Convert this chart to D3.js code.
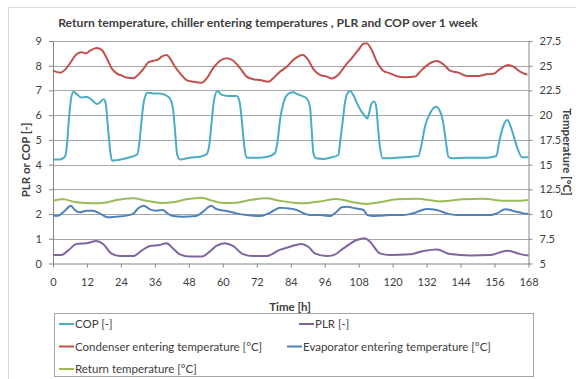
<!DOCTYPE html>
<html>
<head>
<meta charset="utf-8">
<script src="https://cdn.jsdelivr.net/npm/d3@7"></script>
<style>
  body { margin: 0; background: #fff; }
  svg text { font-family: Lato, "Open Sans", sans-serif; fill: #404040; }
</style>
</head>
<body>
<svg id="chart"></svg>
<script>
var width = 576;
var height = 379;

var hourTicks = d3.range(0, 169, 12);
var leftTicks = d3.range(0, 10, 1);
var rightTicks = [5, 7.5, 10, 12.5, 15, 17.5, 20, 22.5, 25, 27.5];

// COP [-] (left axis)
var copHours = [0, 2.4, 4.2, 4.8, 5.7, 6.5, 7.3, 8.3, 10.1, 11.8, 13.5, 15.5, 16.5, 17.9, 18.6, 19.4, 20.3, 20.9, 22.5, 26, 29.8, 30.5, 31.3, 32.2, 33.4, 35.5, 37.8, 39.6, 41.3, 42.3, 43.1, 43.9, 44.9, 48.4, 52, 54.3, 55.3, 56.1, 56.9, 58.1, 59.6, 62, 64.9, 65.9, 66.7, 67.6, 68.4, 73.1, 76.7, 78.4, 79.4, 80.2, 81.4, 83.1, 84.9, 86.1, 87.9, 89.6, 90.8, 91.4, 92, 92.9, 95.5, 97.9, 100.8, 101.4, 102.4, 103.2, 104, 104.9, 106.1, 107.3, 108.5, 109.9, 111.1, 111.8, 112.6, 113.4, 114.2, 114.9, 115.5, 116.5, 119.1, 123.8, 129.1, 130.3, 131.4, 133.2, 135.3, 136.8, 137.9, 138.9, 139.7, 140.9, 146.2, 153.3, 156.6, 157.8, 159.2, 160.6, 162.1, 163.9, 165.7, 168];
var copValues = [4.21, 4.21, 4.32, 4.66, 5.94, 6.75, 6.95, 6.86, 6.71, 6.75, 6.64, 6.45, 6.51, 6.64, 6.48, 5.53, 4.46, 4.16, 4.18, 4.26, 4.42, 4.86, 5.80, 6.61, 6.91, 6.88, 6.88, 6.82, 6.68, 6.34, 5.40, 4.39, 4.21, 4.28, 4.32, 4.42, 4.86, 5.80, 6.61, 6.98, 6.82, 6.78, 6.78, 6.55, 5.80, 4.73, 4.28, 4.28, 4.35, 4.46, 5.00, 5.80, 6.48, 6.86, 6.93, 6.86, 6.78, 6.68, 6.34, 5.40, 4.46, 4.26, 4.23, 4.28, 4.39, 4.86, 5.80, 6.55, 6.88, 6.98, 6.82, 6.51, 6.24, 6.01, 5.87, 6.14, 6.48, 6.55, 6.34, 5.40, 4.73, 4.26, 4.26, 4.30, 4.35, 4.86, 5.53, 6.07, 6.34, 6.14, 5.67, 4.86, 4.32, 4.26, 4.28, 4.28, 4.35, 5.00, 5.60, 5.80, 5.40, 4.73, 4.30, 4.30];

// PLR [-] (left axis)
var plrHours = [0, 3, 5.3, 8.3, 11.8, 15.3, 17.7, 20.6, 23.6, 28.3, 31.3, 34.2, 37.8, 40.1, 42.4, 44.8, 48.4, 52.5, 55.4, 57.7, 60.7, 63.6, 67.1, 70.7, 75.4, 80.1, 83.7, 87.8, 90.2, 92.5, 96.7, 99.1, 102.6, 107.3, 110.2, 112, 115.5, 119.1, 126.2, 130.9, 135.6, 140.3, 147.4, 154.5, 160.4, 165.1, 168];
var plrValues = [0.34, 0.34, 0.52, 0.79, 0.82, 0.91, 0.79, 0.41, 0.30, 0.30, 0.52, 0.71, 0.75, 0.82, 0.61, 0.37, 0.28, 0.28, 0.48, 0.71, 0.82, 0.71, 0.38, 0.30, 0.30, 0.55, 0.68, 0.79, 0.68, 0.41, 0.30, 0.34, 0.61, 0.95, 1.02, 0.88, 0.41, 0.34, 0.37, 0.51, 0.57, 0.38, 0.32, 0.34, 0.52, 0.38, 0.32];

// Condenser entering temperature [°C] (right axis)
var condHours = [0, 2.5, 4.2, 6, 8.4, 10.1, 11.7, 13.1, 15.4, 17.2, 19, 20.7, 22.5, 24.3, 26, 28.4, 30.1, 31.9, 33.7, 35.4, 37.2, 38.4, 40.2, 41.3, 43.1, 44.9, 47.2, 49.6, 52.5, 54.3, 56.6, 59, 61.4, 63.7, 66.1, 68.4, 70.8, 73.1, 76.1, 77.8, 80.2, 82.6, 84.9, 86.1, 88.2, 90.2, 92, 94.3, 96.7, 98.5, 100.8, 103.2, 105.5, 107.9, 109.6, 110.8, 112.6, 114.4, 116.7, 119.1, 121.4, 124.4, 127.9, 130.3, 133.2, 135.6, 137.9, 140.3, 143.2, 146.2, 149.7, 153.3, 155.6, 157.9, 160.9, 162.7, 165, 167.6];
var condTemps = [24.5, 24.3, 24.58, 25.25, 26.18, 26.35, 26.25, 26.53, 26.8, 26.6, 25.75, 24.75, 24.23, 24.0, 23.8, 23.73, 24.08, 24.65, 25.35, 25.5, 25.65, 25.93, 26.08, 25.75, 24.9, 24.23, 23.55, 23.38, 23.28, 23.73, 24.75, 25.5, 25.75, 25.5, 24.75, 23.9, 23.63, 23.55, 23.38, 23.73, 24.4, 24.9, 25.58, 25.85, 26.08, 25.58, 24.65, 24.08, 23.9, 23.7, 24.08, 24.98, 25.75, 26.6, 27.2, 27.28, 26.6, 25.4, 24.5, 24.23, 23.95, 23.83, 23.9, 24.58, 25.25, 25.48, 25.15, 24.5, 24.3, 23.95, 23.95, 24.13, 24.18, 24.65, 25.08, 24.9, 24.4, 24.08];

// Evaporator entering temperature [°C] (right axis)
var evapHours = [0, 1.8, 4.2, 6.3, 7.7, 9.5, 11.9, 14.1, 16.5, 19.4, 22.4, 25.9, 28.3, 30.1, 32.1, 34.2, 36.6, 38.9, 40.1, 42.4, 45.9, 50.6, 53, 55.9, 57.7, 61.3, 64.8, 68.4, 73.1, 76.7, 80.2, 82.6, 86.1, 87.3, 90.8, 94.3, 97.9, 100.2, 102, 103.8, 106.8, 109.7, 111.1, 113.2, 115.5, 119.1, 123.8, 127.9, 132.1, 135.6, 139.1, 142.6, 147.4, 154.5, 156.8, 159.8, 162.7, 166.3, 168];
var evapTemps = [9.84, 9.84, 10.34, 10.85, 10.41, 10.18, 10.34, 10.34, 10.07, 9.67, 9.74, 9.84, 10.01, 10.58, 10.85, 10.48, 10.34, 10.41, 10.14, 9.8, 9.74, 9.8, 10.24, 10.85, 10.51, 10.31, 10.07, 9.9, 9.8, 10.14, 10.65, 10.58, 10.41, 10.24, 9.9, 9.9, 9.8, 10.24, 10.68, 10.75, 10.58, 10.41, 9.9, 9.8, 9.84, 9.9, 9.9, 10.14, 10.51, 10.41, 10.07, 9.9, 9.9, 9.9, 10.07, 10.48, 10.31, 10.07, 10.0];

// Return temperature [°C] (right axis)
var returnHours = [0, 3.6, 8.3, 14.1, 18.3, 22.4, 28.3, 33, 38.9, 42.4, 47.1, 52.5, 55.4, 60.1, 64.8, 69.5, 75.4, 80.1, 86, 88.5, 94.3, 100.2, 106.1, 110.8, 115.5, 121.4, 128.5, 136.8, 145, 152.1, 159.2, 165.1, 168];
var returnTemps = [11.35, 11.49, 11.19, 11.09, 11.15, 11.42, 11.59, 11.35, 11.12, 11.19, 11.49, 11.65, 11.42, 11.12, 11.15, 11.42, 11.59, 11.35, 11.12, 11.09, 11.28, 11.52, 11.19, 11.02, 11.19, 11.49, 11.55, 11.28, 11.49, 11.55, 11.35, 11.35, 11.42];

var svg = d3.select('#chart').attr('width', width).attr('height', height);

var plotLeft = 53, plotRight = 528.5, plotTop = 41, plotBottom = 263.5;

var x = d3.scaleLinear().domain([0, 168]).range([plotLeft, plotRight]);
var yLeft = d3.scaleLinear().domain([0, 9]).range([plotBottom, plotTop]);
var yRight = d3.scaleLinear().domain([5, 27.5]).range([plotBottom, plotTop]);

// outer chart frame
svg.append('rect')
  .attr('x', 8.5).attr('y', 7.5)
  .attr('width', 620).attr('height', 420)
  .attr('fill', 'none').attr('stroke', '#d9d9d9');

// horizontal gridlines
svg.append('g').selectAll('line')
  .data(leftTicks.slice(1))
  .enter().append('line')
  .attr('x1', plotLeft).attr('x2', plotRight)
  .attr('y1', function(d) { return Math.round(yLeft(d)) + 0.5; })
  .attr('y2', function(d) { return Math.round(yLeft(d)) + 0.5; })
  .attr('stroke', '#a6a6a6');

function styleAxis(g) {
  g.selectAll('path, line').attr('stroke', '#868686');
  g.selectAll('text').attr('font-size', 11).attr('fill', '#262626');
}

svg.append('g')
  .attr('transform', 'translate(' + plotLeft + ',0)')
  .call(d3.axisLeft(yLeft).tickValues(leftTicks).tickSize(4).tickSizeOuter(0).tickPadding(7))
  .call(styleAxis);

svg.append('g')
  .attr('transform', 'translate(' + plotRight + ',0)')
  .call(d3.axisRight(yRight).tickValues(rightTicks).tickSize(4).tickSizeOuter(0).tickPadding(7)
    .tickFormat(function(d) { return d; }))
  .call(styleAxis);

svg.append('g')
  .attr('transform', 'translate(0,' + plotBottom + ')')
  .call(d3.axisBottom(x).tickValues(hourTicks).tickSize(4).tickSizeOuter(0).tickPadding(11))
  .call(styleAxis);

// series
var series = [
  { name: 'COP [-]', color: '#4bacc6', hours: copHours, vals: copValues, y: yLeft },
  { name: 'PLR [-]', color: '#8064a2', hours: plrHours, vals: plrValues, y: yLeft },
  { name: 'Condenser entering temperature [°C]', color: '#c0504d', hours: condHours, vals: condTemps, y: yRight },
  { name: 'Evaporator entering temperature [°C]', color: '#4f81bd', hours: evapHours, vals: evapTemps, y: yRight },
  { name: 'Return temperature [°C]', color: '#9bbb59', hours: returnHours, vals: returnTemps, y: yRight }
];

var drawOrder = [4, 3, 1, 2, 0];
drawOrder.forEach(function(i) {
  var s = series[i];
  var line = d3.line()
    .x(function(d) { return x(d[0]); })
    .y(function(d) { return s.y(d[1]); })
    .curve(d3.curveMonotoneX);
  svg.append('path')
    .datum(d3.zip(s.hours, s.vals))
    .attr('d', line)
    .attr('fill', 'none')
    .attr('stroke', s.color)
    .attr('stroke-width', 2)
    .attr('stroke-linejoin', 'round');
});

// titles
svg.append('text')
  .attr('x', 268).attr('y', 27)
  .attr('text-anchor', 'middle')
  .attr('font-size', 12.2).attr('font-weight', 'bold')
  .attr('fill', '#000')
  .text('Return temperature, chiller entering temperatures , PLR and COP over 1 week');

svg.append('text')
  .attr('x', 290).attr('y', 311)
  .attr('text-anchor', 'middle')
  .attr('font-size', 11.5).attr('font-weight', 'bold')
  .attr('fill', '#000')
  .text('Time [h]');

svg.append('text')
  .attr('transform', 'translate(30,160) rotate(-90)')
  .attr('text-anchor', 'middle')
  .attr('font-size', 11.5).attr('font-weight', 'bold')
  .attr('fill', '#000')
  .text('PLR or COP [-]');

svg.append('text')
  .attr('transform', 'translate(563,152) rotate(90)')
  .attr('text-anchor', 'middle')
  .attr('font-size', 11.5).attr('font-weight', 'bold')
  .attr('fill', '#000')
  .text('Temperature [°C]');

// legend
svg.append('rect')
  .attr('x', 54.5).attr('y', 313.5)
  .attr('width', 479).attr('height', 63)
  .attr('fill', 'none').attr('stroke', '#a6a6a6');

var legendSpots = [[59, 324], [299, 324], [59, 346.5], [287, 346.5], [59, 369]];
var legend = svg.append('g').selectAll('g')
  .data(series)
  .enter().append('g')
  .attr('transform', function(d, i) { return 'translate(' + legendSpots[i][0] + ',' + legendSpots[i][1] + ')'; });

legend.append('line')
  .attr('x1', 0).attr('x2', 15)
  .attr('stroke', function(d) { return d.color; })
  .attr('stroke-width', 2);

legend.append('text')
  .attr('x', 16).attr('dy', '0.35em')
  .attr('font-size', 11.5)
  .attr('fill', '#000')
  .text(function(d) { return d.name; });
</script>
</body>
</html>
